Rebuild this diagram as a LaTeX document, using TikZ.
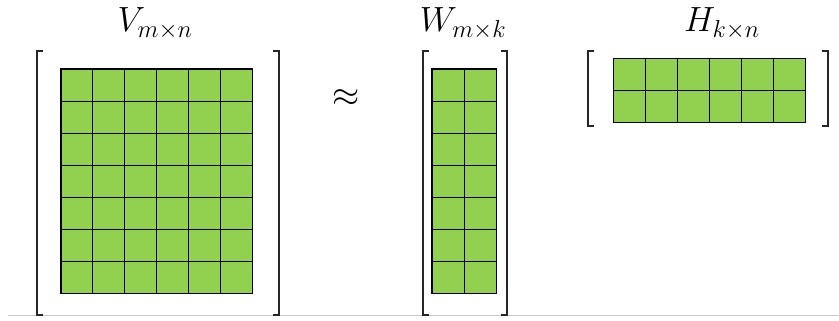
\RequirePackage{fix-cm}
\documentclass[tikz,border=0pt]{standalone}
\usepackage{xcolor}
\usepackage{tikz}
\usetikzlibrary{positioning, calc}
\definecolor{cellgreen}{HTML}{92D050}
\definecolor{rulegray}{HTML}{C8C8C8}

\tikzset{
  cell/.style={fill=cellgreen, draw=black, line width=1.1pt},
  bracket/.style={draw=black!85, line width=1.8pt},
  matlabel/.style={anchor=base, font=\fontsize{35}{40}\selectfont, inner sep=0pt}
}

\begin{document}
\begin{tikzpicture}[x=1pt, y=-1pt]
  \useasboundingbox (0,0) rectangle (839,321);
  \draw[rulegray, line width=1pt] (8,315.5) -- (839,315.5);

  % V: 7 x 6
  \foreach \r in {0,...,6}
    \foreach \c in {0,...,5}
      \draw[cell] (61+\c*31.9, 69+\r*32.1) rectangle ++(31.9,32.1);
  \draw[bracket] (43,50.7) -- (37,50.7) -- (37,315) -- (43,315);
  \draw[bracket] (273,50.7) -- (279,50.7) -- (279,315) -- (273,315);
  \node[matlabel] (lblV) at (155,32) {$V_{m\times n}$};

  \node[font=\fontsize{35}{40}\selectfont, inner sep=0pt] (approx) at (346.5,98.5) {$\approx$};

  % W: 7 x 2
  \foreach \r in {0,...,6}
    \foreach \c in {0,1}
      \draw[cell] (432+\c*32.4, 69+\r*32.1) rectangle ++(32.4,32.1);
  \draw[bracket] (428.7,50.7) -- (422.7,50.7) -- (422.7,315) -- (428.7,315);
  \draw[bracket] (500.7,50.7) -- (506.7,50.7) -- (506.7,315) -- (500.7,315);
  \node[matlabel] (lblW) at (463,32) {$W_{m\times k}$};

  % H: 2 x 6
  \foreach \r in {0,1}
    \foreach \c in {0,...,5}
      \draw[cell] (613.3+\c*32, 58.3+\r*32.2) rectangle ++(32,32.2);
  \draw[bracket] (594.3,50.7) -- (588.3,50.7) -- (588.3,126) -- (594.3,126);
  \draw[bracket] (822.3,50.7) -- (828.3,50.7) -- (828.3,126) -- (822.3,126);
  \node[matlabel] (lblH) at (722,32) {$H_{k\times n}$};
\end{tikzpicture}
\end{document}
